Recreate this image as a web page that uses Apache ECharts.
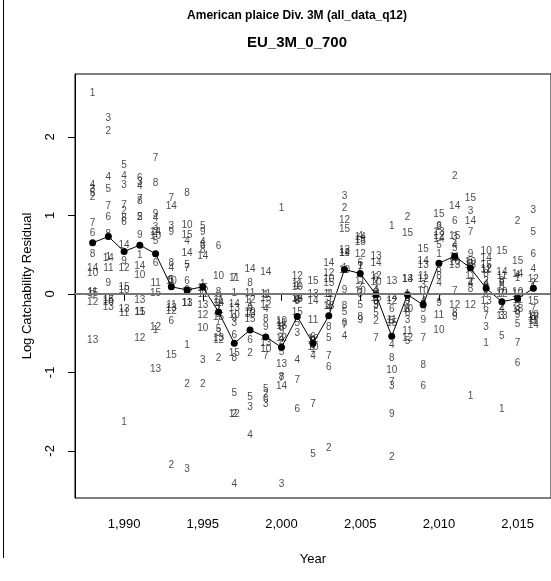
<!DOCTYPE html>
<html>
<head>
<meta charset="utf-8">
<script src="https://cdn.jsdelivr.net/npm/echarts@6/dist/echarts.min.js"></script>
<style>
  html, body { margin: 0; padding: 0; background: #fff; }
  #chart { width: 551px; height: 581px; }
</style>
</head>
<body>
<div id="chart"></div>
<script>
// Survey years and age classes
const years = [1988, 1989, 1990, 1991, 1992, 1993, 1994, 1995, 1996, 1997,
               1998, 1999, 2000, 2001, 2002, 2003, 2004, 2005, 2006, 2007,
               2008, 2009, 2010, 2011, 2012, 2013, 2014, 2015, 2016];
const ages = [1, 2, 3, 4, 5, 6, 7, 8, 9, 10, 11, 12, 13, 14, 15];

// Log catchability residuals by year, ages 1..15
const res1988 = [2.56, 1.23, 1.33, 1.38, 1.28, 0.77, 0.90, 0.50, -0.02, 0.26, 0.02, -0.11, -0.59, 0.33, 0.01];
const res1989 = [0.47, 2.07, 2.24, 1.49, 1.33, 0.98, 1.11, 0.76, 0.14, -0.11, 0.33, -0.05, -0.17, 0.45, -0.08];
const res1990 = [-1.64, 1.05, 1.38, 1.50, 1.64, 0.91, 1.13, 0.96, 0.41, 0.04, -0.25, 0.33, -0.20, 0.62, 0.09];
const res1991 = [0.49, 0.97, 1.42, 1.37, 0.98, 1.47, 1.20, 1.18, 0.75, 0.24, -0.23, -0.56, -0.08, 0.35, -0.23];
const res1992 = [-0.46, 0.79, 0.85, 0.96, 0.67, 0.39, 1.73, 1.41, 1.02, 0.73, 0.14, -0.42, -0.96, 0.79, 0.01];
const res1993 = [0.17, -2.18, 0.86, 0.33, 0.17, -0.35, 1.22, 0.39, 0.79, 0.16, -0.14, -0.22, -0.18, 1.11, -0.78];
const res1994 = [-0.65, -1.15, -2.24, 0.67, 0.37, 0.16, 0.33, 1.28, 0.05, 0.88, -0.12, 0.02, -0.12, 0.52, 0.75];
const res1995 = [0.12, -1.15, -0.84, 0.66, 0.86, 0.62, 0.05, 0.56, 0.78, -0.44, -0.01, -0.27, -0.14, 0.48, 0.07];
const res1996 = [-0.20, -0.82, -0.50, -0.15, -0.45, 0.60, -0.35, 0.02, -0.04, 0.22, -0.08, -0.59, -0.56, -0.12, -0.30];
const res1997 = [0.01, -1.53, -0.37, -2.42, -1.26, -0.53, 0.20, -0.82, -0.31, -0.27, 0.20, -1.53, -0.18, -0.13, -0.76];
const res1998 = [-0.12, -0.76, -1.45, -1.80, -1.32, -0.59, -0.25, 0.14, -0.18, -0.23, 0.01, -0.08, -0.26, 0.31, -0.32];
const res1999 = [-0.02, -1.28, -1.40, -0.20, -1.21, -1.34, -0.80, -0.32, -0.42, -0.71, -0.01, -0.14, -0.63, 0.27, -0.05];
const res2000 = [1.09, -0.60, -2.43, -0.58, -0.75, -0.42, -1.08, -1.06, -0.48, -0.35, -0.37, -0.56, -0.90, -1.18, -0.41];
const res2001 = [0.10, -0.05, -0.50, -0.84, -0.38, -1.47, -1.10, -0.09, -0.08, 0.08, 0.12, 0.22, -0.07, -0.05, -0.24];
const res2002 = [-0.70, -0.60, -0.65, -0.80, -2.04, -0.55, -1.41, -0.62, -0.60, -0.68, -0.33, -0.58, -0.01, -0.10, 0.16];
const res2003 = [0.00, -1.97, -0.05, -0.18, -0.56, -0.93, -0.79, -0.42, -0.14, 0.18, 0.00, 0.26, -0.16, 0.39, 0.14];
const res2004 = [0.32, 1.09, 1.24, -0.54, -0.23, -0.37, -0.40, -0.16, 0.05, 0.30, 0.52, 0.94, 0.55, 0.52, 0.82];
const res2005 = [0.35, 0.10, 0.00, 0.73, -0.14, 0.39, 0.34, -0.30, -0.33, 0.03, 0.16, 0.50, 0.68, 0.72, 0.66];
const res2006 = [0.10, -0.35, -0.15, 0.05, -0.25, 0.20, -0.56, -0.10, -0.15, 0.15, 0.00, 0.22, 0.48, 0.39, -0.05];
const res2007 = [0.86, -2.08, -1.18, -0.65, -0.35, -0.20, -1.12, -0.82, -1.53, -0.97, -0.33, -0.10, 0.16, -0.05, -0.37];
const res2008 = [0.00, 0.98, -0.33, -0.05, -0.60, -0.25, -0.15, -0.20, -0.10, -0.20, -0.48, -0.56, 0.18, 0.18, 0.77];
const res2009 = [-0.05, -0.15, 0.11, -0.10, -0.20, -1.18, -0.56, -0.91, -0.33, 0.03, 0.22, 0.18, 0.36, 0.41, 0.57];
const res2010 = [0.50, 0.85, 0.31, 0.14, 0.62, 0.86, -0.06, 0.22, -0.12, -0.46, -0.27, 0.73, 0.78, 0.70, 1.01];
const res2011 = [0.45, 1.50, 0.72, 0.62, 0.58, 0.92, 0.03, -0.25, -0.30, 0.40, 0.46, -0.14, 0.37, 1.11, 0.73];
const res2012 = [-1.30, 0.15, 1.05, 0.14, 0.42, 0.38, 0.79, 0.06, 0.50, 0.40, 0.22, -0.14, 0.37, 0.92, 1.22];
const res2013 = [-0.63, 0.16, -0.42, 0.12, 0.00, -0.18, -0.28, 0.25, 0.10, 0.54, 0.30, 0.31, -0.10, 0.45, 0.37];
const res2014 = [-1.47, -0.17, -0.29, -0.20, -0.54, 0.10, 0.00, 0.16, 0.14, 0.02, 0.22, 0.00, -0.29, 0.28, 0.54];
const res2015 = [0.20, 0.92, -0.17, 0.24, -0.39, -0.88, -0.63, -0.22, -0.27, 0.02, -0.08, -0.01, -0.20, 0.25, 0.41];
const res2016 = [0.08, 0.14, 1.07, 0.31, 0.79, 0.50, -0.20, -0.30, -0.33, -0.27, -0.35, 0.18, -0.30, -0.40, -0.10];

// Mean residual per year
const yearMean = [0.65, 0.73, 0.54, 0.62, 0.51, 0.09, 0.05, 0.09, -0.23, -0.63,
                  -0.46, -0.55, -0.68, -0.29, -0.63, -0.28, 0.31, 0.26, -0.01, -0.54,
                  -0.01, -0.14, 0.39, 0.48, 0.33, 0.07, -0.10, -0.06, 0.07];

// Axis tick positions
const xTicks = [1990, 1995, 2000, 2005, 2010, 2015];
const yTicks = [-2, -1, 0, 1, 2];

const residualRows = [res1988, res1989, res1990, res1991, res1992, res1993, res1994,
  res1995, res1996, res1997, res1998, res1999, res2000, res2001, res2002, res2003,
  res2004, res2005, res2006, res2007, res2008, res2009, res2010, res2011, res2012,
  res2013, res2014, res2015, res2016];

const ageLabels = [];
residualRows.forEach((row, i) => {
  row.forEach((v, j) => ageLabels.push([years[i], v, ages[j]]));
});
const meanPoints = years.map((y, i) => [y, yearMean[i]]);

const FONT = '"Liberation Sans", Arial, Helvetica, sans-serif';
const chart = echarts.init(document.getElementById('chart'), null, { renderer: 'canvas' });

chart.setOption({
  animation: false,
  backgroundColor: '#fff',
  textStyle: { fontFamily: FONT },
  grid: {
    left: 75, top: 74, right: -4, bottom: 83,
    show: true, borderColor: '#000', borderWidth: 1, backgroundColor: 'transparent'
  },
  xAxis: {
    type: 'value', min: 1986.88, max: 2017.12,
    name: 'Year', nameLocation: 'middle', nameGap: 55,
    nameTextStyle: { fontSize: 13, color: '#000', fontFamily: FONT },
    axisLine: { show: true, lineStyle: { color: '#000', width: 1 } },
    axisTick: { show: true, inside: false, length: 7, customValues: xTicks, lineStyle: { color: '#000' } },
    axisLabel: { show: true, customValues: xTicks, fontSize: 13, color: '#000', margin: 20, fontFamily: FONT },
    splitLine: { show: false }
  },
  yAxis: {
    type: 'value', min: -2.6, max: 2.8,
    name: 'Log Catchability Residual', nameLocation: 'middle', nameGap: 41,
    nameTextStyle: { fontSize: 13, color: '#000', fontFamily: FONT },
    axisLine: { show: true, lineStyle: { color: '#000', width: 1 } },
    axisTick: { show: true, inside: false, length: 7, customValues: yTicks, lineStyle: { color: '#000' } },
    axisLabel: { show: true, customValues: yTicks, rotate: 90, fontSize: 13, color: '#000', margin: 18, fontFamily: FONT },
    splitLine: { show: false }
  },
  series: [
    {
      name: 'age', type: 'scatter', data: ageLabels, symbolSize: 0, silent: true, z: 3,
      label: {
        show: true, position: 'inside', formatter: p => String(p.value[2]),
        fontSize: 10, color: '#1a1a1a', fontFamily: FONT
      },
      labelLayout: { hideOverlap: false }
    },
    {
      name: 'mean', type: 'line', data: meanPoints, symbol: 'circle', symbolSize: 7,
      silent: true, z: 4,
      itemStyle: { color: '#000' },
      lineStyle: { color: '#000', width: 1 },
      markLine: {
        silent: true, symbol: 'none', label: { show: false },
        lineStyle: { color: '#777', width: 2, type: 'solid' },
        data: [{ yAxis: 0 }]
      }
    }
  ],
  graphic: [
    { type: 'text', x: 297, y: 16, style: { text: 'American plaice Div. 3M (all_data_q12)', textAlign: 'center', textVerticalAlign: 'middle', font: 'bold 12px ' + FONT, fill: '#000' } },
    { type: 'text', x: 297, y: 43, style: { text: 'EU_3M_0_700', textAlign: 'center', textVerticalAlign: 'middle', font: 'bold 15px ' + FONT, fill: '#000' } },
    { type: 'line', shape: { x1: 3.5, y1: 0, x2: 3.5, y2: 558 }, style: { stroke: '#000', lineWidth: 1 } }
  ]
});
</script>
</body>
</html>
